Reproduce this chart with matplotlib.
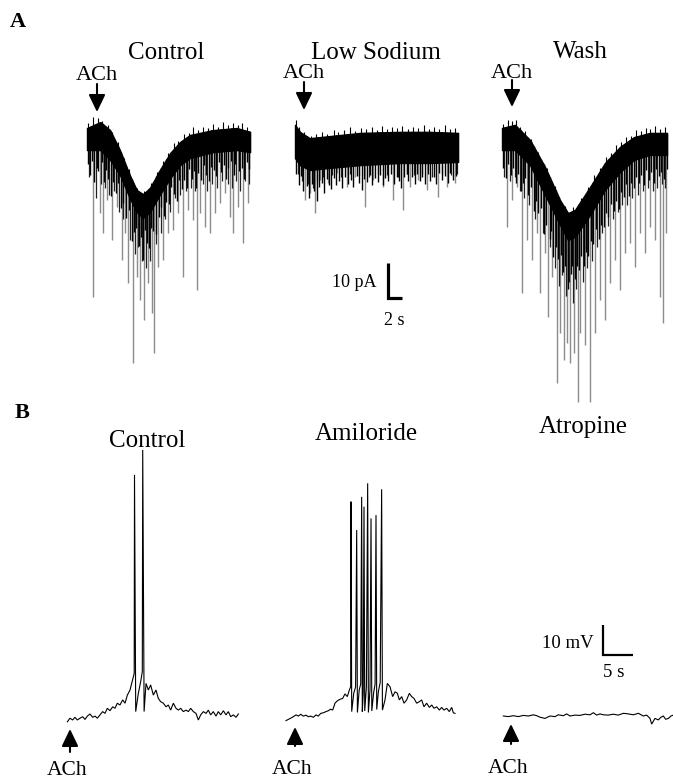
import matplotlib
matplotlib.use("Agg")
import matplotlib.pyplot as plt
import numpy as np

plt.rcParams['font.family'] = ['Liberation Serif', 'DejaVu Serif']

# ---------------- labels ----------------
titles_a = ["Control", "Low Sodium", "Wash"]
titles_b = ["Control", "Amiloride", "Atropine"]
stim_label = "ACh"
scale_a = ("10 pA", "2 s")
scale_b = ("10 mV", "5 s")

# ---------------- Panel A data (current, pA vs time, s) ----------------
# Control (A): baseline band envelope
ctrl_a_t = [0, 1.9, 3.3, 4.7, 6.1, 7.1, 8.0, 9.0, 10.4, 11.9, 13.3, 14.7, 18.0, 21.4, 23.3]
ctrl_a_top = [0, 1.7, -0.6, -6.3, -13.4, -17.7, -18.9, -17.1, -12.0, -7.1, -4.0, -2.0, -0.6, 0, -1.1]
ctrl_a_bot = [-6.3, -6.3, -9.1, -13.4, -20, -24, -25.7, -24, -19.1, -14.3, -10.6, -8.6, -6.9, -6.3, -6.9]
ctrl_a_ev_t = [0.86, 1.86, 2.29, 2.86, 3.57, 4.29, 5.0, 5.43, 5.86, 6.57, 7.14, 7.57, 8.14, 8.71, 9.29,
               9.57, 10.14, 10.86, 11.57, 12.29, 13.0, 13.71, 14.43, 15.14, 15.71, 16.14, 16.86, 17.57,
               18.29, 19.0, 19.71, 20.43, 20.86, 21.57, 22.29, 23.0]
ctrl_a_ev_tip = [-48.3, -24.3, -30, -20.6, -32, -22.6, -37.7, -30, -44.3, -67.1, -42.6, -49.1, -54.9, -44.3,
                 -52.9, -64.3, -39.7, -37.7, -30, -29.1, -24.3, -42.6, -23.4, -26.3, -46.3, -24.3, -28.3,
                 -30, -24.3, -21.4, -18.6, -25.4, -30, -22.6, -32.9, -21.4]
ctrl_a_mn_t = [0.3, 1.3, 2.0, 2.6, 3.2, 3.9, 4.6, 5.2, 6.2, 6.9, 7.3, 7.8, 8.4, 9.0, 9.9, 10.5, 11.2, 11.9,
               12.6, 13.3, 14.1, 14.8, 15.4, 16.5, 17.2, 17.9, 18.6, 19.3, 20.1, 20.7, 21.3, 21.9, 22.6, 23.2]
ctrl_a_mn_tip = [-14, -20, -16, -17, -19, -18, -24, -26, -32, -36, -34, -38, -40, -38, -33, -30, -26, -24,
                 -20, -19, -18, -17, -18, -16, -18, -16, -17, -15, -16, -17, -15, -18, -15, -16]
# small events just below the band (time s, depth below band pA)
ctrl_a_fringe = [(0.1, 4), (0.45, 7), (0.7, 3), (1.05, 9), (1.4, 5), (1.6, 6), (2.1, 3), (2.45, 8), (2.7, 4),
                 (3.05, 6), (3.4, 10), (3.75, 5), (4.1, 7), (4.45, 3), (4.8, 9), (5.1, 6), (5.6, 8), (5.95, 4),
                 (6.4, 11), (6.75, 7), (7.0, 5), (7.45, 9), (7.7, 6), (7.95, 12), (8.3, 4), (8.55, 8),
                 (8.9, 10), (9.15, 5), (9.45, 7), (9.8, 9), (10.3, 6), (10.6, 4), (11.0, 8), (11.35, 5),
                 (11.75, 7), (12.05, 3), (12.45, 6), (12.8, 9), (13.15, 4), (13.5, 7), (13.9, 5), (14.25, 8),
                 (14.6, 3), (14.95, 6), (15.3, 4), (15.55, 9), (15.9, 5), (16.3, 7), (16.65, 3), (17.0, 6),
                 (17.4, 8), (17.75, 4), (18.1, 5), (18.45, 7), (18.8, 3), (19.15, 6), (19.5, 4), (19.85, 8),
                 (20.2, 5), (20.6, 3), (21.0, 7), (21.2, 4), (21.75, 6), (22.1, 5), (22.45, 8), (22.8, 3),
                 (23.1, 5)]
# noise peaks above the band (time s, height pA)
ctrl_a_hairs = [(0.2, 1.2), (0.9, 2.2), (1.5, 1.6), (2.2, 0.8), (3.0, 1.1), (3.6, 0.6), (4.4, 1.0), (5.3, 0.8),
                (6.0, 1.1), (7.2, 0.8), (8.1, 0.6), (9.1, 1.0), (10.0, 0.8), (10.8, 1.4), (11.6, 1.0),
                (12.4, 1.8), (13.0, 0.9), (13.8, 1.6), (14.5, 0.8), (15.2, 2.0), (15.9, 1.0), (16.6, 1.5),
                (17.3, 0.9), (18.0, 1.7), (18.7, 0.8), (19.4, 2.0), (20.1, 1.0), (20.8, 1.5), (21.5, 0.9),
                (22.2, 2.0), (22.9, 1.1)]

# Low sodium (A)
lows_a_t = [0, 0.7, 2.1, 5.0, 9.3, 15.0, 19.3, 23.3]
lows_a_top = [0.9, -1.1, -2.9, -2.3, -1.4, -1.1, -1.1, -1.4]
lows_a_bot = [-8.6, -10.6, -12, -11.4, -10.6, -10, -10, -9.7]
lows_a_ev_t = [1.43, 2.14, 2.86, 3.57, 4.71, 6.0, 7.43, 8.57, 10.0, 11.14, 12.57, 14.0, 15.43, 16.43,
               17.57, 18.86, 20.43, 21.71, 22.86]
lows_a_ev_tip = [-20.6, -18.6, -24.3, -14.9, -15.7, -12.9, -16.9, -14, -22.6, -14.9, -16.9, -20.6, -23.4,
                 -16.9, -14.9, -17.7, -19.7, -16.9, -15.7]
lows_a_mn_t = [0.4, 1.0, 1.8, 2.5, 3.2, 4.0, 5.3, 6.6, 7.9, 9.2, 10.6, 11.8, 13.2, 14.7, 16.0, 17.0, 18.2,
               19.6, 21.0, 22.3, 23.1]
lows_a_mn_tip = [-13, -15, -16, -17, -15, -14, -13.5, -14, -13, -13.5, -14, -13, -13.5, -14, -13, -13.5,
                 -13, -14, -13, -13.5, -13]
lows_a_fringe = [(0.2, 4), (0.55, 6), (0.9, 3), (1.2, 7), (1.7, 5), (2.0, 8), (2.4, 4), (2.7, 6), (3.1, 9),
                 (3.4, 5), (3.8, 4), (4.2, 7), (4.5, 3), (4.9, 5), (5.2, 6), (5.6, 3), (5.9, 5), (6.3, 4),
                 (6.7, 6), (7.1, 3), (7.6, 5), (8.0, 4), (8.3, 6), (8.8, 3), (9.1, 5), (9.5, 7), (9.8, 4),
                 (10.3, 5), (10.7, 3), (11.0, 6), (11.4, 4), (11.8, 5), (12.2, 3), (12.6, 6), (12.9, 4),
                 (13.3, 5), (13.7, 3), (14.2, 6), (14.5, 4), (14.9, 5), (15.2, 7), (15.6, 4), (16.0, 3),
                 (16.2, 5), (16.7, 4), (17.1, 6), (17.4, 3), (17.8, 5), (18.1, 4), (18.5, 6), (19.0, 3),
                 (19.3, 5), (19.8, 4), (20.1, 6), (20.6, 3), (21.0, 5), (21.4, 4), (21.9, 6), (22.2, 3),
                 (22.6, 5), (23.0, 4)]
lows_a_hairs = [(0.1, 1.8), (0.6, 1.0), (1.3, 0.7), (2.3, 0.5), (3.0, 1.0), (3.9, 1.3), (4.6, 0.8), (5.5, 1.6),
                (6.2, 0.9), (7.0, 1.2), (7.8, 2.0), (8.6, 0.8), (9.4, 1.5), (10.2, 1.0), (11.0, 1.6),
                (11.7, 0.8), (12.4, 1.9), (13.2, 0.9), (13.9, 1.4), (14.6, 1.0), (15.3, 1.6), (16.1, 0.8),
                (16.9, 1.5), (17.6, 1.0), (18.4, 2.0), (19.1, 0.8), (19.9, 1.5), (20.6, 1.0), (21.4, 2.0),
                (22.1, 0.9), (22.8, 1.5)]

# Wash (A)
wash_a_t = [0, 1.86, 4.0, 6.14, 8.29, 9.43, 10.43, 12.57, 14.71, 16.86, 18.86, 21.14, 23.57]
wash_a_top = [0, 0.9, -3.4, -11.1, -20.6, -24.3, -23.4, -16.9, -10, -5.4, -2.6, -1.4, -1.4]
wash_a_bot = [-6.3, -6.3, -10.6, -19.1, -27.7, -32, -31.1, -24.9, -17.7, -12.6, -9.1, -7.7, -7.7]
wash_a_ev_t = [0.71, 1.43, 2.14, 2.86, 3.57, 4.29, 5.0, 5.43, 6.14, 6.57, 7.14, 7.86, 8.29, 8.86, 9.29,
               9.71, 10.29, 10.86, 11.14, 11.86, 12.57, 13.29, 14.0, 14.71, 15.43, 16.14, 16.86, 17.57,
               18.29, 19.0, 19.71, 20.43, 21.14, 21.86, 22.57, 23.0, 23.43]
wash_a_ev_tip = [-28.3, -20.6, -16.9, -47.1, -32, -37.7, -30, -47.1, -35.7, -54, -42.6, -72.9, -58.6,
                 -66.3, -61.4, -67.1, -64.3, -78.3, -58.6, -62, -78.3, -58.6, -49.1, -54.9, -44.3, -37.7,
                 -46.3, -35.7, -32.9, -39.7, -30, -35.7, -28.3, -32, -48.3, -55.7, -30]
wash_a_mn_t = [0.3, 1.1, 1.8, 2.5, 3.2, 3.9, 4.7, 5.8, 6.9, 7.5, 8.1, 8.6, 9.1, 9.5, 10.1, 10.5, 11.5, 12.2,
               12.9, 13.6, 14.3, 15.1, 15.8, 16.5, 17.2, 17.9, 18.6, 19.4, 20.1, 20.8, 21.5, 22.2, 22.9, 23.3]
wash_a_mn_tip = [-14, -15, -14, -18, -20, -22, -26, -30, -34, -40, -45, -42, -48, -44, -50, -46, -44, -40,
                 -38, -34, -30, -28, -26, -24, -22, -22, -20, -19, -18, -17, -18, -17, -16, -17]
wash_a_fringe = [(0.15, 5), (0.5, 8), (0.9, 4), (1.25, 7), (1.6, 5), (2.0, 9), (2.35, 6), (2.65, 10), (3.0, 7),
                 (3.35, 5), (3.75, 9), (4.1, 6), (4.5, 11), (4.85, 7), (5.2, 9), (5.6, 6), (5.95, 12),
                 (6.3, 8), (6.8, 10), (7.0, 7), (7.35, 13), (7.65, 9), (8.0, 11), (8.45, 8), (8.7, 12),
                 (9.0, 9), (9.4, 14), (9.85, 10), (10.0, 8), (10.4, 12), (10.65, 9), (11.0, 11), (11.3, 8),
                 (11.65, 12), (12.0, 9), (12.35, 11), (12.75, 8), (13.05, 10), (13.45, 7), (13.8, 11),
                 (14.15, 8), (14.5, 10), (14.9, 7), (15.2, 9), (15.6, 6), (15.95, 9), (16.3, 7), (16.65, 10),
                 (17.05, 6), (17.4, 8), (17.75, 5), (18.1, 9), (18.45, 6), (18.8, 8), (19.2, 5), (19.55, 7),
                 (19.9, 5), (20.25, 8), (20.6, 4), (20.95, 7), (21.3, 5), (21.65, 8), (22.0, 4), (22.4, 6),
                 (22.75, 5), (23.2, 7), (23.5, 4)]
wash_a_hairs = [(0.2, 1.0), (0.8, 1.8), (1.4, 1.4), (2.0, 1.6), (2.6, 0.8), (3.3, 1.0), (4.1, 0.7), (5.2, 1.0),
                (6.4, 0.7), (7.6, 1.0), (9.0, 0.7), (10.1, 1.0), (11.3, 0.7), (12.3, 1.0), (13.2, 1.3),
                (14.0, 1.0), (14.8, 1.6), (15.6, 1.0), (16.3, 1.6), (17.0, 1.2), (17.7, 1.7), (18.4, 1.0),
                (19.1, 1.9), (19.8, 1.2), (20.5, 1.6), (21.2, 1.0), (21.9, 1.9), (22.6, 1.2), (23.3, 1.6)]

# ---------------- Panel B data (voltage, mV vs time, s) ----------------
ctrl_b = [(0.06, -0.6), (0.5, 0.6), (0.94, 0), (1.33, 0.9), (1.72, 0), (2.17, 0.6), (2.61, 1.1), (3.0, 0.2),
          (3.39, 1.3), (3.83, 2.0), (4.28, 0.9), (4.67, 1.3), (5.06, 0.6), (5.5, 1.7), (5.94, 2.8),
          (6.33, 2.2), (6.72, 3.9), (7.17, 3.1), (7.61, 4.4), (8.0, 3.9), (8.39, 5.6), (8.83, 5.0),
          (9.28, 6.7), (9.67, 5.6), (10.06, 8.3), (10.5, 10), (10.78, 12.2), (11.06, 14.4), (11.2, 15.6),
          (11.25, 81.7), (11.45, 2.8), (11.89, 8.9), (12.28, 12.8), (12.55, 16.1), (12.62, 90),
          (12.85, 2.8), (13.17, 12.2), (13.56, 10), (13.94, 11.7), (14.39, 8.3), (14.83, 10), (15.22, 7.2),
          (15.61, 6.1), (16.06, 5.6), (16.5, 4.4), (16.89, 5.0), (17.28, 3.3), (17.72, 5.6), (18.17, 3.9),
          (18.56, 3.3), (18.94, 3.9), (19.39, 2.8), (19.83, 3.3), (20.22, 2.8), (20.61, 3.9), (21.06, 2.8),
          (21.5, 2.2), (21.89, 0), (22.28, 1.7), (22.72, 2.8), (23.17, 2.2), (23.56, 3.3), (23.94, 1.7),
          (24.39, 2.8), (24.83, 1.3), (25.22, 2.8), (25.61, 1.7), (26.06, 3.1), (26.5, 1.7), (26.89, 2.8),
          (27.28, 1.1), (27.72, 1.7), (28.17, 0.9), (28.56, 2.0)]
amil_b = [(0, -0.2), (0.39, 0.2), (0.78, 0.6), (1.22, 1.1), (1.67, 1.7), (2.06, 1.3), (2.44, 1.9), (2.89, 1.3),
          (3.33, 1.6), (3.72, 1.1), (4.11, 1.3), (4.56, 0.9), (5.0, 1.7), (5.39, 1.3), (5.78, 2.2),
          (6.22, 2.4), (6.67, 2.8), (7.06, 3.1), (7.44, 3.6), (7.78, 3.3), (8.17, 5.6), (8.56, 6.4),
          (9.0, 6.9), (9.44, 7.2), (9.83, 8.7), (10.22, 7.8), (10.56, 10), (10.78, 11.1),
          (10.83, 72.8), (10.95, 2.8), (11.3, 9), (11.6, 11), (11.78, 63.3), (11.9, 2.5), (12.2, 10),
          (12.45, 12), (12.61, 74.4), (12.72, 2.8), (12.87, 9), (13.0, 71.1), (13.12, 3), (13.4, 11),
          (13.61, 78.9), (13.73, 2.5), (14.0, 10), (14.17, 67.2), (14.3, 3.0), (14.6, 9), (14.85, 12),
          (15.0, 68.3), (15.12, 3.5), (15.4, 9.5), (15.7, 12.5), (15.94, 76.9), (16.07, 3.3),
          (16.5, 6.7), (16.89, 12.2), (17.33, 11.1), (17.78, 7.8), (18.17, 9.4), (18.56, 8.9), (18.89, 6.7),
          (19.28, 7.8), (19.67, 5.6), (20.11, 6.7), (20.56, 8.9), (20.94, 7.8), (21.33, 7.2), (21.78, 5.6),
          (22.22, 6.1), (22.61, 6.7), (23.0, 4.4), (23.44, 5.6), (23.89, 4.2), (24.28, 5.0), (24.67, 3.9),
          (25.11, 4.4), (25.56, 3.3), (25.94, 4.2), (26.33, 3.3), (26.78, 3.9), (27.22, 2.8), (27.61, 4.2),
          (27.89, 2.4), (28.17, 2.2)]
atro_b = [(0.06, 0), (0.89, -0.2), (1.72, 0.1), (2.56, -0.2), (3.39, 0.2), (4.22, 0), (5.06, 0.4), (5.61, 0.1),
          (6.17, -0.4), (7.0, -0.8), (7.83, 0), (8.67, -0.2), (9.22, 0.4), (10.06, 0.1), (10.61, 0.7),
          (11.17, 0), (12.0, 0.3), (12.83, 0.2), (13.67, 0.6), (14.5, 0.4), (15.06, 1.1), (15.61, 0.3),
          (16.17, 0.7), (16.72, 0.4), (17.56, 0.3), (18.39, 0.6), (19.22, 0.3), (20.06, 0.9), (20.89, 0.7),
          (21.72, 0.4), (22.56, 0.9), (23.39, 0), (23.94, 0.3), (24.5, -0.8), (24.78, -2.7), (25.33, -0.8),
          (25.89, -1.3), (26.33, -0.4), (26.72, 0), (27.11, -1.1), (27.56, -0.8), (28.0, 0), (28.39, 0.3)]

# ---------------- layout ----------------
W, H = 673, 781
fig = plt.figure(figsize=(W / 100, H / 100), dpi=100)
fig.patch.set_facecolor('white')

overlay = fig.add_axes([0, 0, 1, 1])
overlay.set_xlim(0, W)
overlay.set_ylim(H, 0)
overlay.axis('off')
overlay.patch.set_visible(False)


def trace_axes(left, zero, dur, pps, ppu, lo, hi):
    width = dur * pps
    bottom = zero - lo * ppu
    top = zero - hi * ppu
    ax = fig.add_axes([left / W, 1 - bottom / H, width / W, (bottom - top) / H])
    ax.set_xlim(0, dur)
    ax.set_ylim(lo, hi)
    ax.axis('off')
    ax.patch.set_visible(False)
    return ax


A_PPS, A_PPU = 7.0, 3.5
B_PPS, B_PPU = 6.0, 3.0


def draw_current(ax, t, top, bot, ev_t, ev_tip, mn_t, mn_tip, fringe, hairs):
    t = np.asarray(t, float)
    top = np.asarray(top, float)
    bot = np.asarray(bot, float)
    ev_t = np.asarray(ev_t, float)
    mn_t = np.asarray(mn_t, float)
    fr_t = np.array([p[0] for p in fringe])
    fr_d = np.array([p[1] for p in fringe])
    hr_t = np.array([p[0] for p in hairs])
    hr_h = np.array([p[1] for p in hairs])
    ax.vlines(ev_t, np.interp(ev_t, t, top), ev_tip, colors='#8c8c8c', lw=1.0, clip_on=False, zorder=2)
    ax.vlines(mn_t, np.interp(mn_t, t, top), mn_tip, colors='#202020', lw=0.9, clip_on=False, zorder=2.5)
    ax.vlines(fr_t, np.interp(fr_t, t, top), np.interp(fr_t, t, bot) - fr_d, colors='black', lw=1.0,
              clip_on=False, zorder=2.6)
    ax.fill_between(t, top, bot, color='black', lw=1.0, clip_on=False, zorder=3)
    ax.vlines(hr_t, np.interp(hr_t, t, top) - 1, np.interp(hr_t, t, top) + hr_h, colors='black', lw=0.8,
              clip_on=False, zorder=3)


ax1 = trace_axes(87, 128, 23.3, A_PPS, A_PPU, -82, 5)
draw_current(ax1, ctrl_a_t, ctrl_a_top, ctrl_a_bot, ctrl_a_ev_t, ctrl_a_ev_tip, ctrl_a_mn_t, ctrl_a_mn_tip,
             ctrl_a_fringe, ctrl_a_hairs)
ax2 = trace_axes(295, 128, 23.3, A_PPS, A_PPU, -82, 5)
draw_current(ax2, lows_a_t, lows_a_top, lows_a_bot, lows_a_ev_t, lows_a_ev_tip, lows_a_mn_t, lows_a_mn_tip,
             lows_a_fringe, lows_a_hairs)
ax3 = trace_axes(502, 128, 23.6, A_PPS, A_PPU, -82, 5)
draw_current(ax3, wash_a_t, wash_a_top, wash_a_bot, wash_a_ev_t, wash_a_ev_tip, wash_a_mn_t, wash_a_mn_tip,
             wash_a_fringe, wash_a_hairs)


def draw_voltage(ax, pairs):
    tt = [p[0] for p in pairs]
    vv = [p[1] for p in pairs]
    ax.plot(tt, vv, color='black', lw=0.8, clip_on=False, solid_joinstyle='miter')


bx1 = trace_axes(67, 720, 28.6, B_PPS, B_PPU, -5, 95)
draw_voltage(bx1, ctrl_b)
bx2 = trace_axes(286, 720, 28.2, B_PPS, B_PPU, -5, 95)
draw_voltage(bx2, amil_b)
bx3 = trace_axes(503, 716, 28.4, B_PPS, B_PPU, -5, 95)
draw_voltage(bx3, atro_b)

# scale bars
sa = trace_axes(388, 298, 2, A_PPS, A_PPU, 0, 10)
sa.plot([0, 0, 2], [10, 0, 0], color='black', lw=2.3, clip_on=False, solid_joinstyle='miter', solid_capstyle='butt')
sb = trace_axes(603, 655, 5, B_PPS, B_PPU, 0, 10)
sb.plot([0, 0, 5], [10, 0, 0], color='black', lw=1.6, clip_on=False, solid_joinstyle='miter', solid_capstyle='butt')

# texts
overlay.text(18, 27, "A", fontsize=16, fontweight='bold', ha='center', va='baseline')
overlay.text(22, 418, "B", fontsize=16, fontweight='bold', ha='center', va='baseline')
for x, y, s in [(166, 59, titles_a[0]), (376, 59, titles_a[1]), (580, 58, titles_a[2]),
                (147, 447, titles_b[0]), (366, 440, titles_b[1]), (583, 433, titles_b[2])]:
    overlay.text(x, y, s, fontsize=18, ha='center', va='baseline')

overlay.text(377, 287, scale_a[0], fontsize=13, ha='right', va='baseline')
overlay.text(394, 325, scale_a[1], fontsize=13, ha='center', va='baseline')
overlay.text(594, 648, scale_b[0], fontsize=13.5, ha='right', va='baseline')
overlay.text(614, 677, scale_b[1], fontsize=13.5, ha='center', va='baseline')

# ACh labels and arrows
arrow_style = '-|>,head_length=0.75,head_width=0.36'
for x, ylab, y0, y1 in [(97, 80, 84, 112), (304, 78, 82, 110), (512, 78, 80, 107)]:
    overlay.text(x, ylab, stim_label, fontsize=16, ha='center', va='baseline')
    overlay.annotate('', xy=(x, y1), xytext=(x, y0),
                     arrowprops=dict(arrowstyle=arrow_style, color='black', lw=1.5,
                                     shrinkA=0, shrinkB=0, mutation_scale=14))
for x, ylab, y0, y1 in [(70, 780, 752, 729), (295, 779, 746, 727), (511, 778, 744, 724)]:
    overlay.text(x - 3, ylab, stim_label, fontsize=15.5, ha='center', va='bottom')
    overlay.annotate('', xy=(x, y1), xytext=(x, y0),
                     arrowprops=dict(arrowstyle=arrow_style, color='black', lw=1.5,
                                     shrinkA=0, shrinkB=0, mutation_scale=14))

fig.savefig("out.png", dpi=100, facecolor='white')
